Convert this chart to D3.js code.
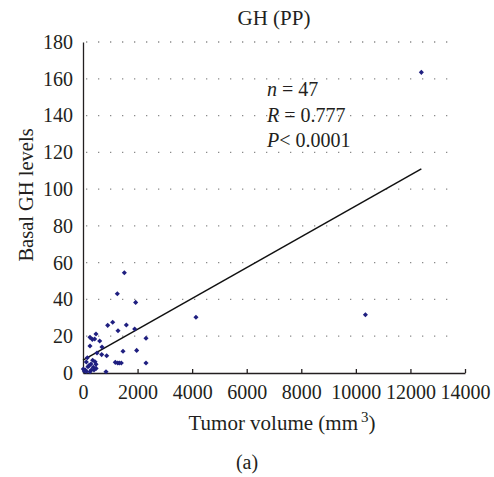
<!DOCTYPE html>
<html><head><meta charset="utf-8">
<script src="https://cdn.jsdelivr.net/npm/d3@7"></script>
<style>body{margin:0;background:#fff}svg{display:block}text{font-family:"Liberation Serif","Times New Roman",serif;fill:#231f20}</style>
</head><body>
<script>
const title = "GH (PP)";
const xTicks = [0,2000,4000,6000,8000,10000,12000,14000];
const yTicks = [0,20,40,60,80,100,120,140,160,180];
const volume = [1515,1258,1930,4140,905,1088,1588,1283,1894,2309,476,256,342,428,612,256,696,1466,1967,513,685,868,158,1184,1271,1330,1404,2309,355,440,121,293,476,183,377,11,84,304,403,843,256,48,12400,10350,130,480,220];
const ghLevel = [54.5,43.1,38.4,30.3,25.9,27.6,26.1,23.0,23.9,18.9,21.2,19.4,18.3,18.5,17.4,14.7,14.1,11.8,12.3,10.9,10.0,9.4,8.3,5.8,5.4,5.4,5.4,5.4,6.9,6.1,6.0,4.9,4.7,3.4,3.1,2.2,1.6,1.6,1.6,0.7,0.7,1.1,163.5,31.7,0.8,2.5,4.0];
const fitLine = [[0,7],[12400,111]];
const stats = [["n","\u00a0=\u00a047"],["R","\u00a0=\u00a00.777"],["P","<\u00a00.0001"]];

const W=494,H=477;
const svg=d3.select("body").append("svg").attr("width",W).attr("height",H);
const x=d3.scaleLinear().domain([0,14000]).range([83,465]);
const y=d3.scaleLinear().domain([0,180]).range([373,42]);

// gridlines
svg.append("g").selectAll("line").data(yTicks.filter(d=>d>0)).join("line")
  .attr("x1",86).attr("x2",458).attr("y1",d=>y(d)).attr("y2",d=>y(d))
  .attr("stroke","#8a8a8a").attr("stroke-width",1.3).attr("stroke-dasharray","1.3,10.7");

// y axis
const ya=svg.append("g").attr("transform","translate(83,0)")
  .call(d3.axisLeft(y).tickValues(yTicks).tickSize(0).tickPadding(10));
ya.select(".domain").attr("stroke","#231f20").attr("stroke-width",1.3);
ya.selectAll("text").style("font-size","20px").style("font-family","Liberation Serif").attr("fill","#231f20");

// x axis
const xa=svg.append("g").attr("transform","translate(0,373)")
  .call(d3.axisTop(x).tickValues(xTicks).tickSize(4).tickSizeOuter(0).tickFormat(d3.format("d")));
xa.select(".domain").attr("stroke","#231f20").attr("stroke-width",1.3);
xa.selectAll("line").attr("stroke","#231f20").attr("stroke-width",1.3);
xa.selectAll("text").attr("y",26).style("font-size","20px").style("font-family","Liberation Serif").attr("fill","#231f20");

// fit line
svg.append("line").attr("x1",x(fitLine[0][0])).attr("y1",y(fitLine[0][1]))
  .attr("x2",x(fitLine[1][0])).attr("y2",y(fitLine[1][1]))
  .attr("stroke","#111").attr("stroke-width",1.5);

// points
const sym=d3.symbol().type(d3.symbolSquare).size(13);
svg.append("g").selectAll("path").data(volume.map((v,i)=>[v,ghLevel[i]])).join("path")
  .attr("d",sym).attr("fill","#1f1f80")
  .attr("transform",d=>`translate(${x(d[0])},${y(d[1])}) rotate(45)`);

// titles
svg.append("text").attr("x",274).attr("y",25).attr("text-anchor","middle").style("font-size","21px").text(title);
const xt=svg.append("text").attr("x",282).attr("y",430).attr("text-anchor","middle").style("font-size","21px");
xt.append("tspan").text("Tumor volume (mm");
xt.append("tspan").attr("dy",-8).style("font-size","15px").text("\u20093");
xt.append("tspan").attr("dy",8).text(")");
svg.append("text").attr("transform","translate(33,195) rotate(-90)").attr("text-anchor","middle").style("font-size","20.5px").text("Basal GH levels");
svg.append("text").attr("x",247).attr("y",469).attr("text-anchor","middle").style("font-size","20px").text("(a)");

// stats
const base=[95.7,121.7,146.7];
stats.forEach((s,i)=>{
  const t=svg.append("text").attr("x",267).attr("y",base[i]).style("font-size","20px");
  t.append("tspan").style("font-style","italic").text(s[0]);
  t.append("tspan").text(s[1]);
});
</script>
</body></html>
